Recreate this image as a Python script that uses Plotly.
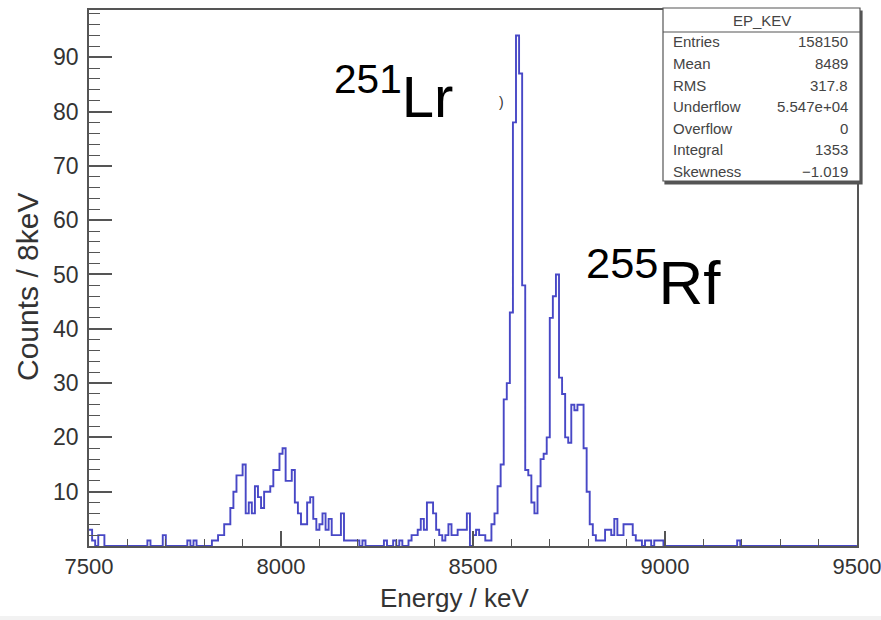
import plotly.graph_objects as go

# ---- data ----
bin_start = 7500
bin_width = 8
n_bins = 250
counts = [
    3, 1, 0, 2, 2, 0, 0, 0, 0, 0,
    0, 0, 0, 0, 0, 0, 0, 0, 0, 1,
    0, 0, 0, 0, 2, 0, 0, 0, 0, 0,
    0, 0, 1, 0, 1, 0, 0, 0, 0, 0,
    1, 1, 2, 2, 4, 4, 7, 10, 13, 13,
    15, 6, 8, 6, 11, 9, 7, 10, 10, 11,
    14, 14, 17, 18, 12, 12, 14, 8, 6, 4,
    4, 8, 9, 5, 3, 4, 6, 3, 5, 2,
    2, 2, 6, 1, 1, 1, 1, 1, 0, 1,
    0, 0, 0, 0, 0, 0, 1, 0, 0, 1,
    0, 1, 0, 0, 1, 2, 2, 3, 5, 3,
    8, 8, 6, 3, 2, 1, 2, 4, 2, 2,
    3, 3, 3, 6, 0, 2, 3, 2, 2, 1,
    1, 4, 6, 11, 15, 27, 30, 43, 78, 94,
    87, 48, 14, 13, 8, 6, 11, 16, 17, 20,
    42, 46, 50, 31, 28, 20, 19, 26, 25, 26,
    26, 18, 10, 4, 2, 1, 1, 1, 3, 3,
    2, 5, 2, 2, 4, 4, 4, 2, 1, 1,
    0, 1, 1, 0, 1, 1, 1, 0, 0, 0,
    0, 0, 0, 0, 0, 0, 0, 0, 0, 0,
    0, 0, 0, 0, 0, 0, 0, 0, 0, 0,
    0, 1, 0, 0, 0, 0, 0, 0, 0, 0,
    0, 0, 0, 0, 0, 0, 0, 0, 0, 0,
    0, 0, 0, 0, 0, 0, 0, 0, 0, 0,
    0, 0, 0, 0, 0, 0, 0, 0, 0, 0,
]
x_ticks = [7500, 8000, 8500, 9000, 9500]
y_ticks = [10, 20, 30, 40, 50, 60, 70, 80, 90]
stats_title = "EP_KEV"
stats_names = ["Entries", "Mean", "RMS", "Underflow", "Overflow", "Integral", "Skewness"]
stats_values = ["158150", "8489", "317.8", "5.547e+04", "0", "1353", "\u22121.019"]

# ---- layout geometry ----
W, H = 881, 620
L, R, T, B = 89, 24, 10, 74
PW, PH = W - L - R, H - T - B


def px(xp):
    return (xp - L) / PW


def py(yp):
    return (H - B - yp) / PH


edges = [bin_start + i * bin_width for i in range(n_bins + 1)]
yvals = counts + [counts[-1]]

fig = go.Figure()
fig.add_trace(go.Scatter(
    x=edges, y=yvals, mode="lines", line_shape="hv",
    line=dict(color="#4848c6", width=1.9), hoverinfo="skip", showlegend=False,
))

narrow = "Liberation Sans Narrow, Liberation Sans, Arial, sans-serif"
sans = "Liberation Sans, Arial, sans-serif"
axcol = "#555555"

fig.update_layout(
    width=W, height=H,
    margin=dict(l=L, r=R, t=T, b=B, autoexpand=False),
    paper_bgcolor="white", plot_bgcolor="white",
    showlegend=False,
    xaxis=dict(
        range=[7499.9, 9500.1], tickvals=x_ticks, ticktext=[str(v) for v in x_ticks],
        ticks="inside", ticklen=15, tickwidth=1.5, tickcolor=axcol,
        minor=dict(dtick=100, ticks="inside", ticklen=7, tickcolor=axcol, tickwidth=1.2),
        showline=True, linecolor=axcol, linewidth=1.8, mirror=True,
        showgrid=False, zeroline=False, automargin=False,
        tickfont=dict(family=narrow, size=22, color="#333333"),
        ticklabeloverflow="allow",
    ),
    yaxis=dict(
        range=[0, 98.7], tickvals=y_ticks, ticktext=[str(v) for v in y_ticks],
        ticks="inside", ticklen=23, tickwidth=1.5, tickcolor=axcol,
        minor=dict(dtick=2, ticks="inside", ticklen=11, tickcolor=axcol, tickwidth=1.2),
        showline=True, linecolor=axcol, linewidth=1.8, mirror=True,
        showgrid=False, zeroline=False, automargin=False,
        tickfont=dict(family=narrow, size=23, color="#333333"),
        ticklabelstandoff=4,
    ),
)

annotations = []
# axis titles
annotations.append(dict(
    x=px(455), y=py(598), xref="paper", yref="paper", text="Energy / keV",
    showarrow=False, font=dict(family=sans, size=26, color="#333333"),
    xanchor="center", yanchor="middle",
))
annotations.append(dict(
    x=px(27), y=py(287), xref="paper", yref="paper", text="Counts / 8keV",
    showarrow=False, font=dict(family=sans, size=30, color="#333333"),
    textangle=-90, xanchor="center", yanchor="middle",
))
# peak labels
annotations.append(dict(
    x=px(332), y=py(93), xref="paper", yref="paper", text="<sup>251</sup>Lr",
    showarrow=False, font=dict(family=sans, size=58, color="black"),
    xanchor="left", yanchor="middle",
))
annotations.append(dict(
    x=px(584), y=py(278), xref="paper", yref="paper", text="<sup>255</sup>Rf",
    showarrow=False, font=dict(family=sans, size=62, color="black"),
    xanchor="left", yanchor="middle",
))
annotations.append(dict(
    x=px(501), y=py(102), xref="paper", yref="paper", text=")",
    showarrow=False, font=dict(family=sans, size=14, color="#333333"),
    xanchor="center", yanchor="middle",
))

# stats box
bx0, bx1, by0, by1 = 663, 860, 8, 181
shapes = [
    dict(type="rect", xref="paper", yref="paper", x0=px(bx0 + 2), x1=px(bx1 + 2), y0=py(by0 + 3), y1=py(by1 + 3),
         line=dict(color="#555555", width=1.2), fillcolor="#555555", layer="above"),
    dict(type="rect", xref="paper", yref="paper", x0=px(bx0), x1=px(bx1), y0=py(by0), y1=py(by1),
         line=dict(color="#555555", width=1.2), fillcolor="white", layer="above"),
    dict(type="line", xref="paper", yref="paper", x0=px(bx0), x1=px(bx1), y0=py(32), y1=py(32),
         line=dict(color="#555555", width=1.2), layer="above"),
    dict(type="rect", xref="paper", yref="paper", x0=0 - L / PW, x1=1 + R / PW, y0=py(620), y1=py(616),
         line=dict(width=0), fillcolor="#f2f2f2", layer="below"),
]
annotations.append(dict(
    x=px((bx0 + bx1) / 2), y=py(20), xref="paper", yref="paper", text=stats_title,
    showarrow=False, font=dict(family=narrow, size=15, color="#444444"),
    xanchor="center", yanchor="middle",
))
row_y = [42, 63.5, 85, 106.5, 128, 149.5, 171]
for name, val, yy in zip(stats_names, stats_values, row_y):
    annotations.append(dict(
        x=px(671), y=py(yy), xref="paper", yref="paper", text=name,
        showarrow=False, font=dict(family=narrow, size=15, color="#444444"),
        xanchor="left", yanchor="middle",
    ))
    annotations.append(dict(
        x=px(850), y=py(yy), xref="paper", yref="paper", text=val,
        showarrow=False, font=dict(family=narrow, size=15, color="#444444"),
        xanchor="right", yanchor="middle",
    ))

fig.update_layout(annotations=annotations, shapes=shapes)
fig.write_html("out.html")
